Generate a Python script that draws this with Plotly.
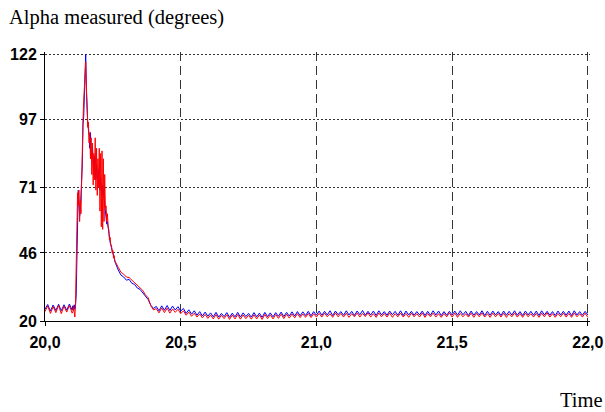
import numpy as np
import plotly.graph_objects as go

# Sampling grids (s): coarse before/after the transient, fine through it
t_lead = np.round(np.arange(20.00, 20.10 + 1e-9, 0.01), 4)
t_peak = np.round(np.arange(20.1025, 20.26 + 1e-9, 0.0025), 4)
t_tail = np.round(np.arange(20.27, 22.00 + 1e-9, 0.01), 4)

# Alpha (degrees) — blue channel
blue_lead = [24.5, 26.3, 23.8, 26.1, 24.0, 26.4, 23.9, 26.2, 24.1, 26.5, 24.2]
blue_peak = [25.8, 24.0, 26.2, 24.5, 26.0, 30.0, 50.0, 67.0, 70.0, 66.0,
             60.0, 62.0, 68.0, 72.0, 80.0, 95.0, 98.0, 106.0, 114.0, 122.0,
             108.0, 98.0, 96.0, 93.0, 91.0, 86.0, 92.0, 84.0, 82.0, 86.0,
             79.0, 76.0, 83.0, 78.0, 74.0, 80.0, 76.0, 72.0, 78.0, 73.0,
             70.0, 75.0, 71.0, 68.0, 72.0, 69.0, 66.0, 64.0, 62.0, 60.0,
             57.0, 58.0, 55.0, 53.0, 52.0, 50.0, 49.0, 48.0, 47.0, 45.5,
             45.0, 44.0, 43.0, 42.0]
blue_decay = [39.5, 37.5, 36.8, 35.6, 35.9, 34.4, 34.0, 32.6, 32.1, 30.8,
              29.5, 28.2, 26.0, 24.8]
blue_settle = [25.6, 23.9, 25.8, 24.1, 25.9, 24.0, 25.7, 24.2, 25.5, 23.8,
               24.8, 22.9, 24.3, 22.6, 23.9, 22.2, 23.6, 21.9, 23.4, 21.8]
blue_dip = [23.1, 21.6, 23.3, 21.5, 22.9, 21.7, 23.2, 21.4, 23.0, 21.6,
            23.3, 21.5, 23.1, 21.7, 22.9, 21.5, 23.2, 21.6, 23.0, 21.4,
            23.3, 21.7, 23.1, 21.6, 23.2, 21.8, 23.4, 21.7, 23.3, 21.9,
            23.5, 21.9, 23.6, 22.0, 23.5, 22.1, 23.7, 22.0, 23.6, 22.2]
blue_steady = [23.8, 22.2, 23.7, 22.3, 23.9, 22.1, 23.8, 22.4, 23.6, 22.2,
               23.9, 22.3, 23.7, 22.1, 23.8, 22.4, 24.0, 22.2, 23.7, 22.3,
               23.8, 22.1, 23.9, 22.3, 23.6, 22.2, 23.8, 22.4, 23.7, 22.2,
               23.9, 22.1, 23.8, 22.3, 23.7, 22.2, 23.6, 22.3, 23.8, 22.1,
               23.7, 22.2, 23.9, 22.3, 23.8, 22.1, 23.6, 22.2, 23.7, 22.3,
               23.8, 22.2, 23.9, 22.4, 23.7, 22.1, 23.8, 22.2, 23.6, 22.3,
               23.9, 22.1, 23.7, 22.2, 23.8, 22.3, 23.6, 22.1, 23.8, 22.2,
               23.7, 22.3, 23.9, 22.2, 23.6, 22.1, 23.8, 22.3, 23.7, 22.2,
               23.8, 22.1, 23.9, 22.3, 23.7, 22.2, 23.6, 22.1, 23.8, 22.3,
               23.7, 22.2, 23.8, 22.1, 23.9, 22.3, 23.6, 22.2, 23.7, 22.3]

# Alpha (degrees) — red channel
red_lead = [23.6, 25.8, 22.9, 25.5, 23.2, 26.0, 22.8, 25.7, 23.4, 25.9, 23.0]
red_peak = [23.5, 25.5, 23.0, 21.5, 27.0, 42.0, 56.0, 69.0, 64.0, 70.0,
            58.0, 66.0, 61.0, 78.0, 88.0, 97.0, 104.0, 111.0, 116.0, 119.0,
            110.0, 99.0, 94.0, 96.0, 88.0, 92.0, 82.0, 90.0, 76.0, 88.0,
            72.0, 84.0, 74.0, 90.0, 70.0, 86.0, 68.0, 82.0, 71.0, 86.0,
            62.0, 84.0, 56.0, 85.0, 55.0, 82.0, 58.0, 76.0, 63.0, 64.0,
            58.0, 61.0, 56.0, 55.0, 51.0, 52.0, 49.0, 49.0, 46.0, 47.0,
            44.0, 45.0, 42.5, 42.5]
red_decay = [40.5, 38.6, 37.9, 36.8, 36.6, 35.7, 34.8, 33.6, 32.7, 31.7,
             30.0, 28.9, 25.8, 24.2]
red_settle = [24.8, 23.1, 25.0, 23.2, 24.9, 23.0, 24.6, 23.3, 24.5, 22.8,
              23.9, 22.2, 23.4, 21.8, 23.0, 21.5, 22.7, 21.2, 22.5, 21.0]
red_dip = [22.3, 20.8, 22.5, 20.7, 22.2, 20.9, 22.4, 20.6, 22.3, 20.8,
           22.5, 20.7, 22.3, 20.9, 22.2, 20.7, 22.4, 20.8, 22.3, 20.6,
           22.5, 20.9, 22.4, 20.8, 22.5, 21.0, 22.6, 20.9, 22.6, 21.1,
           22.7, 21.2, 22.8, 21.3, 22.7, 21.4, 22.9, 21.3, 22.8, 21.5]
red_steady = [22.9, 21.5, 23.0, 21.6, 22.8, 21.4, 23.1, 21.6, 22.9, 21.5,
              23.0, 21.4, 22.8, 21.6, 23.0, 21.5, 22.9, 21.7, 23.1, 21.5,
              22.8, 21.4, 23.0, 21.6, 22.9, 21.5, 23.1, 21.4, 22.8, 21.6,
              23.0, 21.5, 22.9, 21.4, 23.0, 21.6, 22.8, 21.5, 23.1, 21.4,
              22.9, 21.6, 23.0, 21.5, 22.8, 21.4, 22.9, 21.6, 23.1, 21.5,
              23.0, 21.4, 22.9, 21.6, 22.8, 21.5, 23.0, 21.4, 22.9, 21.6,
              23.1, 21.5, 22.8, 21.4, 23.0, 21.6, 22.9, 21.5, 23.0, 21.4,
              22.8, 21.6, 23.1, 21.5, 22.9, 21.4, 23.0, 21.6, 22.8, 21.5,
              22.9, 21.4, 23.0, 21.6, 23.1, 21.5, 22.8, 21.4, 22.9, 21.6,
              23.0, 21.5, 22.9, 21.4, 23.1, 21.6, 22.8, 21.5, 23.0, 21.4]

# Axis ticks
y_ticks = [20, 46, 71, 97, 122]
x_ticks = [20.0, 20.5, 21.0, 21.5, 22.0]

time = np.concatenate([t_lead, t_peak, t_tail])
blue = blue_lead + blue_peak + blue_decay + blue_settle + blue_dip + blue_steady
red = red_lead + red_peak + red_decay + red_settle + red_dip + red_steady
assert len(time) == len(blue) == len(red)

fig = go.Figure()
fig.add_trace(go.Scatter(x=time, y=blue, mode="lines",
                         line=dict(color="#0000ff", width=1), showlegend=False))
fig.add_trace(go.Scatter(x=time, y=red, mode="lines",
                         line=dict(color="#ff0000", width=1), showlegend=False))

tick_font = dict(family="Liberation Sans, Arial, sans-serif", size=16,
                 color="black", weight="bold")
label_font = dict(family="Liberation Serif, Times New Roman, serif", size=20.5,
                  color="black")

# Ranges run a hair past the last ticks so their grid lines stay drawn
fig.update_layout(
    width=605, height=412,
    margin=dict(l=45, r=15, t=52, b=91),
    paper_bgcolor="white", plot_bgcolor="white",
    separators=",.",
    xaxis=dict(range=[20, 22.008], tickvals=x_ticks, tickformat=".1f",
               automargin=False,
               showline=True, linecolor="black", linewidth=1,
               ticks="outside", ticklen=4, tickcolor="black",
               ticklabelstandoff=3,
               showgrid=True, gridcolor="#333333", gridwidth=1,
               griddash="9px,5px", zeroline=False, tickfont=tick_font),
    yaxis=dict(range=[20, 122.8], tickvals=y_ticks, automargin=False,
               showline=True, linecolor="black", linewidth=1,
               ticks="outside", ticklen=4, tickcolor="black",
               showgrid=True, gridcolor="#333333", gridwidth=1,
               griddash="2px,2px", zeroline=False, tickfont=tick_font),
    annotations=[
        dict(text="Alpha measured (degrees)", xref="paper", yref="paper",
             x=-0.0697, y=1.130, xanchor="left", yanchor="middle",
             showarrow=False, font=label_font),
        dict(text="Time", xref="paper", yref="paper",
             x=1.0275, y=-0.2937, xanchor="right", yanchor="middle",
             showarrow=False, font=label_font),
    ],
)

fig.write_html("out.html")
